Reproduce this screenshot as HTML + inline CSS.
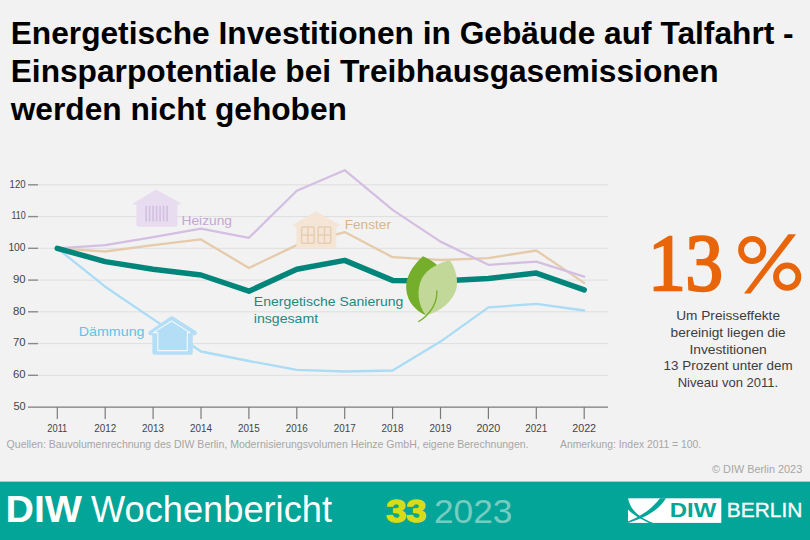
<!DOCTYPE html>
<html><head><meta charset="utf-8">
<style>
html,body{margin:0;padding:0;}
body{width:810px;height:540px;background:#f2f2f2;position:relative;overflow:hidden;font-family:"Liberation Sans",sans-serif;}
.t{position:absolute;left:10.7px;white-space:nowrap;font-weight:bold;font-size:31.7px;color:#000;line-height:38px;}
svg{position:absolute;left:0;top:0;}
</style></head><body>
<div class="t" style="top:14px">Energetische Investitionen in Gebäude auf Talfahrt -</div>
<div class="t" style="top:52px">Einsparpotentiale bei Treibhausgasemissionen</div>
<div class="t" style="top:90px">werden nicht gehoben</div>
<svg width="810" height="540" viewBox="0 0 810 540" font-family="Liberation Sans, sans-serif">

 <g stroke="#dedede" stroke-width="1">
  <line x1="38" y1="375.3" x2="608" y2="375.3"/>
  <line x1="38" y1="343.6" x2="608" y2="343.6"/>
  <line x1="38" y1="311.8" x2="608" y2="311.8"/>
  <line x1="38" y1="280.1" x2="608" y2="280.1"/>
  <line x1="38" y1="248.3" x2="608" y2="248.3"/>
  <line x1="38" y1="216.6" x2="608" y2="216.6"/>
  <line x1="38" y1="184.8" x2="608" y2="184.8"/>
 </g>
 <g stroke="#8a8a8a" stroke-width="1.4">
  <line x1="28" y1="375.3" x2="38" y2="375.3"/>
  <line x1="28" y1="343.6" x2="38" y2="343.6"/>
  <line x1="28" y1="311.8" x2="38" y2="311.8"/>
  <line x1="28" y1="280.1" x2="38" y2="280.1"/>
  <line x1="28" y1="248.3" x2="38" y2="248.3"/>
  <line x1="28" y1="216.6" x2="38" y2="216.6"/>
  <line x1="28" y1="184.8" x2="38" y2="184.8"/>
 </g>
 <g stroke="#7a7a7a" stroke-width="1.2">
  <line x1="28" y1="407.1" x2="608" y2="407.1"/>
  <line x1="57.3" y1="407.1" x2="57.3" y2="419"/>
  <line x1="105.2" y1="407.1" x2="105.2" y2="419"/>
  <line x1="153.1" y1="407.1" x2="153.1" y2="419"/>
  <line x1="201.0" y1="407.1" x2="201.0" y2="419"/>
  <line x1="248.9" y1="407.1" x2="248.9" y2="419"/>
  <line x1="296.8" y1="407.1" x2="296.8" y2="419"/>
  <line x1="344.7" y1="407.1" x2="344.7" y2="419"/>
  <line x1="392.6" y1="407.1" x2="392.6" y2="419"/>
  <line x1="440.5" y1="407.1" x2="440.5" y2="419"/>
  <line x1="488.4" y1="407.1" x2="488.4" y2="419"/>
  <line x1="536.3" y1="407.1" x2="536.3" y2="419"/>
  <line x1="584.2" y1="407.1" x2="584.2" y2="419"/>
 </g>
 <g font-size="11.3" fill="#444">
  <text x="13.4" y="409.9" textLength="12.2" lengthAdjust="spacingAndGlyphs">50</text>
  <text x="13.0" y="378.1" textLength="12.6" lengthAdjust="spacingAndGlyphs">60</text>
  <text x="13.0" y="346.4" textLength="12.6" lengthAdjust="spacingAndGlyphs">70</text>
  <text x="13.0" y="314.6" textLength="12.6" lengthAdjust="spacingAndGlyphs">80</text>
  <text x="13.0" y="282.9" textLength="12.6" lengthAdjust="spacingAndGlyphs">90</text>
  <text x="8.4" y="251.1" textLength="17.2" lengthAdjust="spacingAndGlyphs">100</text>
  <text x="11.4" y="219.4" textLength="14.2" lengthAdjust="spacingAndGlyphs">110</text>
  <text x="9.6" y="187.6" textLength="16.0" lengthAdjust="spacingAndGlyphs">120</text>
 </g>
 <g font-size="11.3" fill="#444">
  <text x="47.3" y="432.3" textLength="20.0" lengthAdjust="spacingAndGlyphs">2011</text>
  <text x="94.2" y="432.3" textLength="21.95" lengthAdjust="spacingAndGlyphs">2012</text>
  <text x="142.1" y="432.3" textLength="21.95" lengthAdjust="spacingAndGlyphs">2013</text>
  <text x="190.0" y="432.3" textLength="21.95" lengthAdjust="spacingAndGlyphs">2014</text>
  <text x="237.9" y="432.3" textLength="21.95" lengthAdjust="spacingAndGlyphs">2015</text>
  <text x="285.8" y="432.3" textLength="21.95" lengthAdjust="spacingAndGlyphs">2016</text>
  <text x="333.7" y="432.3" textLength="21.95" lengthAdjust="spacingAndGlyphs">2017</text>
  <text x="381.6" y="432.3" textLength="21.95" lengthAdjust="spacingAndGlyphs">2018</text>
  <text x="429.5" y="432.3" textLength="21.95" lengthAdjust="spacingAndGlyphs">2019</text>
  <text x="476.4" y="432.3" textLength="23.9" lengthAdjust="spacingAndGlyphs">2020</text>
  <text x="525.3" y="432.3" textLength="21.95" lengthAdjust="spacingAndGlyphs">2021</text>
  <text x="572.2" y="432.3" textLength="23.9" lengthAdjust="spacingAndGlyphs">2022</text>
 </g>
 <g fill="none" stroke-linejoin="round" stroke-linecap="round">
  <polyline stroke="#aadcf6" stroke-width="2.3" points="57.3,248.3 105.2,286.7 153.1,319.1 201.0,351.5 248.9,361.0 296.8,369.9 344.7,371.5 392.6,370.5 440.5,341.6 488.4,307.4 536.3,303.9 584.2,310.5"/>
  <polyline stroke="#e6cbab" stroke-width="2.3" points="57.3,248.3 105.2,251.5 153.1,245.1 201.0,239.4 248.9,268.0 296.8,245.1 344.7,232.1 392.6,257.2 440.5,260.0 488.4,258.1 536.3,250.5 584.2,282.9"/>
  <polyline stroke="#d4bfe3" stroke-width="2.3" points="57.3,248.3 105.2,245.1 153.1,237.2 201.0,228.6 248.9,237.8 296.8,190.8 344.7,170.2 392.6,209.9 440.5,241.6 488.4,264.8 536.3,261.6 584.2,276.6"/>
  <polyline stroke="#00857b" stroke-width="5.5" points="57.3,248.3 105.2,261.6 153.1,269.3 201.0,275.0 248.9,291.2 296.8,269.3 344.7,260.4 392.6,280.4 440.5,281.0 488.4,278.5 536.3,273.1 584.2,289.9"/>
 </g>

 <!-- Heizung house -->
 <path d="M156.1,190.1 L180.6,203.6 L177,204.4 L177,224.5 Q177,226.2 175.3,226.2 L138.6,226.2 Q136.9,226.2 136.9,224.5 L136.9,204.4 L133.4,203.6 Z" fill="#e8dcf0" stroke="#e8dcf0" stroke-width="1" stroke-linejoin="round"/>
 <g fill="#d5c3e2">
  <rect x="145.2" y="205.9" width="1.8" height="15.6"/>
  <rect x="148.7" y="205.9" width="1.8" height="15.6"/>
  <rect x="152.2" y="205.9" width="1.8" height="15.6"/>
  <rect x="155.7" y="205.9" width="1.8" height="15.6"/>
  <rect x="159.2" y="205.9" width="1.8" height="15.6"/>
  <rect x="162.7" y="205.9" width="1.8" height="15.6"/>
  <rect x="166.2" y="205.9" width="1.8" height="15.6"/>
 </g>
 <text x="181.5" y="224.7" font-size="12.6" fill="#c4a6d6" textLength="50.5" lengthAdjust="spacingAndGlyphs" >Heizung</text>

 <!-- Fenster house -->
 <path d="M315.7,211.9 L339.8,225.3 L335.8,226.5 L335.8,248.1 L296.9,248.1 L296.9,226.5 L292.8,225.3 Z" fill="#f5e5d6" stroke="#f5e5d6" stroke-width="1" stroke-linejoin="round"/>
 <g fill="none" stroke="#e7ceb2" stroke-width="1.5">
  <rect x="301.6" y="227" width="12.5" height="16.2" rx="1"/>
  <line x1="307.85" y1="227" x2="307.85" y2="243.2"/>
  <line x1="301.6" y1="235.1" x2="314.1" y2="235.1"/>
  <rect x="318.2" y="227" width="12.5" height="16.2" rx="1"/>
  <line x1="324.45" y1="227" x2="324.45" y2="243.2"/>
  <line x1="318.2" y1="235.1" x2="330.7" y2="235.1"/>
 </g>
 <text x="344.7" y="228.6" font-size="12.6" fill="#d9b68c" textLength="46.3" lengthAdjust="spacingAndGlyphs" >Fenster</text>

 <!-- Daemmung house -->
 <g stroke-linejoin="round">
  <path d="M171.6,318.5 L194.6,333 L190.5,333 L190.5,352.6 L154.6,352.6 L154.6,333 L150.5,333 Z" fill="#b3def6" stroke="#b3def6" stroke-width="4.5"/>
  <path d="M171.6,321 L190,332.6 L187.3,332.6 L187.3,350.6 L157.8,350.6 L157.8,332.6 L153.2,332.6 Z" fill="#b3def6" stroke="#f2f9fd" stroke-width="1.1"/>
 </g>
 <text x="78.8" y="336.1" font-size="12.6" fill="#5cc4ec" textLength="65.7" lengthAdjust="spacingAndGlyphs" >Dämmung</text>
 <text x="253.8" y="306.3" font-size="12.6" fill="#208a83" textLength="149.5" lengthAdjust="spacingAndGlyphs" >Energetische Sanierung</text>
 <text x="253.8" y="323.1" font-size="12.6" fill="#208a83" textLength="64.3" lengthAdjust="spacingAndGlyphs" >insgesamt</text>

 <!-- leaf -->
 <path d="M422.9,256.3 C412,266 405,278 406.3,290 C407.5,302 416,311 425.7,315.3 L440,268 C436,263 429,259 422.9,256.3 Z" fill="#74ae2a"/>
 <path d="M450,260.4 C440,262 428,268 422,278 C416,290 418,305 425.7,315.3 C440,312 452,302 456,290 C459,280 455,267 450,260.4 Z" fill="#c1d898"/>
 <path d="M436.8,291 C437.5,302 431,314 418.75,321.5" fill="none" stroke="#74ae2a" stroke-width="1.3" stroke-linecap="round"/>

 <g font-family="Liberation Serif, serif" fill="#e8650a">
  <text transform="translate(648.2,290.2) scale(0.925,1)" x="0" y="0" font-size="80.9" stroke="#e8650a" stroke-width="2.6" stroke-linejoin="miter">13</text>
 </g>
 <g fill="none" stroke="#e8650a" stroke-width="5.9"><circle cx="752.2" cy="250" r="11.15"/><circle cx="787.2" cy="276.7" r="11.15"/></g>
 <polygon points="788.3,234.2 796.1,234.2 750.5,293.5 744,293.5" fill="#e8650a"/>
 <text x="676.2" y="319.7" font-size="12.4" fill="#3d3d3d" textLength="103.8" lengthAdjust="spacingAndGlyphs" >Um Preisseffekte</text>
 <text x="670.6" y="336.6" font-size="12.4" fill="#3d3d3d" textLength="115.0" lengthAdjust="spacingAndGlyphs" >bereinigt liegen die</text>
 <text x="689.4000000000001" y="353.6" font-size="12.4" fill="#3d3d3d" textLength="77.4" lengthAdjust="spacingAndGlyphs" >Investitionen</text>
 <text x="663.6" y="370" font-size="12.4" fill="#3d3d3d" textLength="129.1" lengthAdjust="spacingAndGlyphs" >13 Prozent unter dem</text>
 <text x="677.7" y="387" font-size="12.4" fill="#3d3d3d" textLength="100.5" lengthAdjust="spacingAndGlyphs" >Niveau von 2011.</text>
 <text x="6.6" y="447.8" font-size="10.6" fill="#a6a6a6" textLength="522" lengthAdjust="spacingAndGlyphs" >Quellen: Bauvolumenrechnung des DIW Berlin, Modernisierungsvolumen Heinze GmbH, eigene Berechnungen.</text>
 <text x="560" y="447.7" font-size="10.6" fill="#a6a6a6" textLength="141.2" lengthAdjust="spacingAndGlyphs" >Anmerkung: Index 2011 = 100.</text>
 <text x="712" y="473.3" font-size="10.6" fill="#a6a6a6" textLength="90.2" lengthAdjust="spacingAndGlyphs" >© DIW Berlin 2023</text>
 <rect x="0" y="481.6" width="810" height="58.4" fill="#03a598"/>
 <text x="5.5" y="522.3" font-size="37" fill="#fff" textLength="76.5" lengthAdjust="spacingAndGlyphs" font-weight="bold">DIW</text>
 <text x="91" y="522.3" font-size="37" fill="#fff" textLength="241" lengthAdjust="spacingAndGlyphs" >Wochenbericht</text>
 <text x="386.2" y="522.1" font-size="32" fill="#d9dc14" textLength="40.2" lengthAdjust="spacingAndGlyphs" font-weight="bold" stroke="#d9dc14" stroke-width="1.4" stroke-linejoin="round">33</text>
 <text x="434" y="522.8" font-size="34" fill="#76ccc0" textLength="78.5" lengthAdjust="spacingAndGlyphs" >2023</text>

 <rect x="628" y="498.3" width="93.3" height="24.6" fill="#fff"/>
 <path d="M660,498.3 L666,498.3 C660,508 650,516 628,523 L628,521.5 C646,514 654,506 660,498.3 Z" fill="#03a598"/>
 <path d="M628,498.3 C630,508 636,516 653,522.9 L649,522.9 C638,518 630,512 628,509.5 Z" fill="#03a598"/>
 <text x="669.8" y="517.4" font-size="19.5" fill="#03a598" textLength="46.5" lengthAdjust="spacingAndGlyphs" font-weight="bold">DIW</text>
 <text x="726.8" y="517.4" font-size="19.5" fill="#fff" textLength="75.5" lengthAdjust="spacingAndGlyphs" stroke="#fff" stroke-width="0.3">BERLIN</text>
</svg>
</body></html>
